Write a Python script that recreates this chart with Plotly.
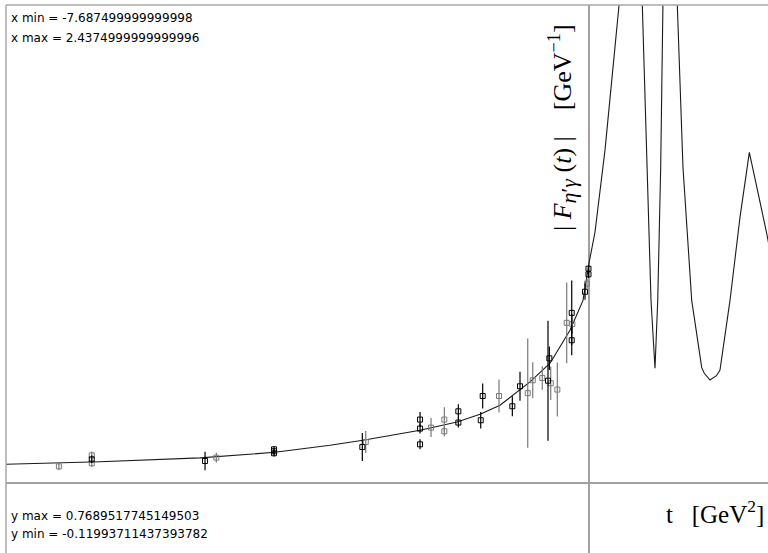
import plotly.graph_objects as go

# ---- data ----
curve_t = [-7.6875, -6.448, -5.129, -4.140, -3.415, -2.980, -2.228, -1.741, -1.437, -1.174,
           -0.778, -0.514, -0.251, -0.079, 0.0, 0.079, 0.211, 0.396, 0.55, 0.703,
           0.761, 0.8175, 0.870, 0.906, 0.945, 0.972, 1.068, 1.164, 1.239, 1.354,
           1.486, 1.52, 1.595, 1.68, 1.727, 1.859, 1.991, 2.114, 2.255, 2.343, 2.4375]
curve_F = [0.0306, 0.0346, 0.0410, 0.0499, 0.0611, 0.0692, 0.0853, 0.0986, 0.111, 0.1255,
           0.163, 0.193, 0.246, 0.294, 0.354, 0.404, 0.536, 0.769, 1.40, 0.769,
           0.508, 0.294, 0.185, 0.294, 0.508, 0.769, 1.60, 0.769, 0.508, 0.294,
           0.186, 0.177, 0.166, 0.173, 0.182, 0.294, 0.428, 0.532, 0.455, 0.402, 0.34]

black_t = [-6.557, -5.063, -4.153, -4.153, -4.153, -2.989, -2.228, -2.228, -2.228, -1.723,
           -1.723, -1.428, -1.402, -1.011, -0.910, -0.541, -0.523, -0.228, -0.228, -0.053,
           -0.007, -0.007]
black_F = [0.0386, 0.0359, 0.0547, 0.0515, 0.0483, 0.0584, 0.1025, 0.088, 0.0627, 0.1158,
           0.0977, 0.1014, 0.1404, 0.1239, 0.156, 0.165, 0.201, 0.274, 0.230, 0.308,
           0.336, 0.345]
black_err = [0.006, 0.0147, 0.005, 0.005, 0.005, 0.0227, 0.012, 0.008, 0.008, 0.0113,
             0.008, 0.0134, 0.020, 0.016, 0.0233, 0.0965, 0.019, 0.052, 0.024, 0.013,
             0.006, 0.006]

gray_t = [-6.99, -6.557, -6.557, -4.914, -2.944, -2.083, -1.908, -1.908, -1.187, -0.808,
          -0.742, -0.616, -0.505, -0.418, -0.294, -0.220, -0.026]
gray_F = [0.0273, 0.045, 0.0322, 0.0413, 0.0664, 0.0896, 0.1025, 0.0837, 0.1404, 0.145,
          0.1657, 0.1694, 0.161, 0.1507, 0.258, 0.256, 0.321]
gray_err = [0.0064, 0.006, 0.006, 0.008, 0.0177, 0.0153, 0.020, 0.008, 0.0265, 0.088,
            0.029, 0.019, 0.027, 0.0434, 0.065, 0.016, 0.008]

x_range = [-7.6875, 2.360]
y_range = [-0.1120, 0.76895]

fig = go.Figure()
fig.add_trace(go.Scatter(x=curve_t, y=curve_F, mode="lines",
                         line=dict(color="#1a1a1a", width=1.1), showlegend=False,
                         hoverinfo="skip"))
fig.add_trace(go.Scatter(x=gray_t, y=gray_F, mode="markers",
                         marker=dict(symbol="square-open", size=5, color="#7a7a7a",
                                     line=dict(width=1, color="#7a7a7a")),
                         error_y=dict(type="data", array=gray_err, color="#7a7a7a",
                                      thickness=1.2, width=0),
                         showlegend=False))
fig.add_trace(go.Scatter(x=black_t, y=black_F, mode="markers",
                         marker=dict(symbol="square-open", size=5, color="#000000",
                                     line=dict(width=1, color="#000000")),
                         error_y=dict(type="data", array=black_err, color="#000000",
                                      thickness=1.2, width=0),
                         showlegend=False))

axis_common = dict(showgrid=False, showticklabels=False, ticks="", zeroline=True,
                   zerolinecolor="#a0a0a0", zerolinewidth=1.5, showline=False)
fig.update_xaxes(range=x_range, **axis_common)
fig.update_yaxes(range=y_range, **axis_common)

# frame lines (left and top)
fig.add_shape(type="line", xref="paper", yref="paper", x0=0, x1=0, y0=0, y1=1,
              line=dict(color="#a8a8a8", width=1.5))
fig.add_shape(type="line", xref="paper", yref="paper", x0=0, x1=1, y0=1, y1=1,
              line=dict(color="#a8a8a8", width=1.5))

small = dict(family="DejaVu Sans", size=12, color="#000000")
notes = [("x min = -7.687499999999998", 18), ("x max = 2.4374999999999996", 38),
         ("y max = 0.7689517745149503", 516), ("y min = -0.11993711437393782", 534)]
for txt, ypx in notes:
    fig.add_annotation(text=txt, xref="paper", yref="paper",
                       x=(9 - 6) / 762, y=1 - (ypx - 5) / 548,
                       xanchor="left", yanchor="middle", showarrow=False, font=small)

serif = dict(family="Liberation Serif", size=26, color="#000000")
ylabel = ("| <i>F</i><sub><span style=\"font-size:22px\"><i>η</i>′<i>γ</i></span></sub>"
          " (<i>t</i>) |    [GeV<sup>−1</sup>]")
fig.add_annotation(text=ylabel,
                   xref="paper", yref="paper", x=(563 - 6) / 762, y=1 - (128 - 5) / 548,
                   textangle=-90, showarrow=False, xanchor="center", yanchor="middle",
                   font=serif)
fig.add_annotation(text="t   [GeV<sup>2</sup>]", xref="paper", yref="paper",
                   x=(766 - 6) / 762, y=1 - (512 - 5) / 548, xanchor="right",
                   yanchor="middle", showarrow=False,
                   font=dict(family="Liberation Serif", size=25, color="#000000"))

fig.update_layout(width=768, height=553, margin=dict(l=6, r=0, t=5, b=0),
                  paper_bgcolor="white", plot_bgcolor="white", showlegend=False)

fig.write_html("out.html", config={"displayModeBar": False},
               post_script="document.body.style.margin='0px';document.body.style.overflow='hidden';")
